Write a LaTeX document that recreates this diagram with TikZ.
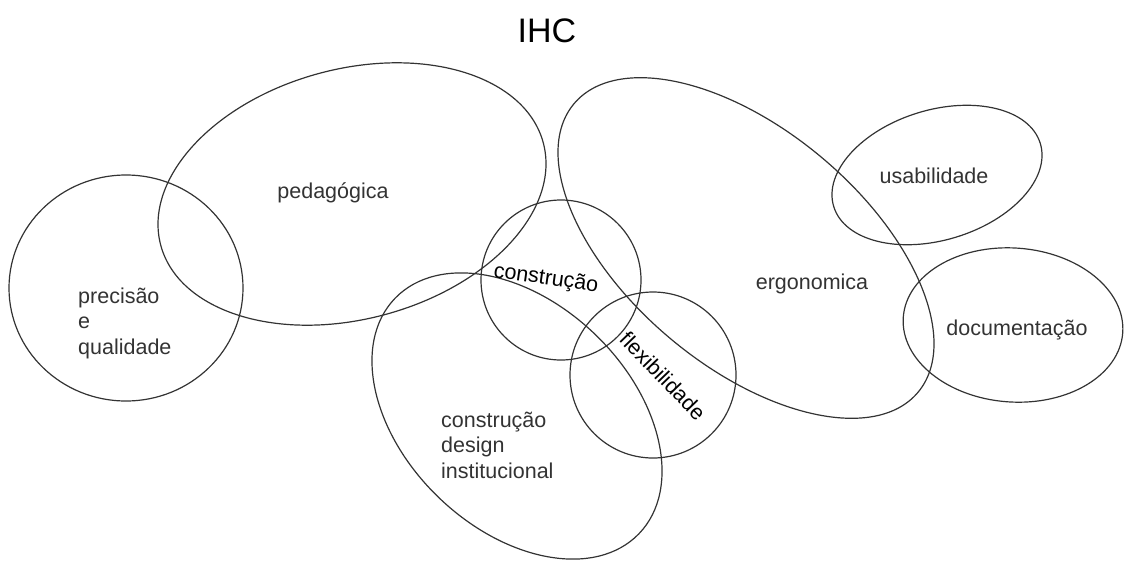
\documentclass[tikz,border=0pt]{standalone}
\usepackage{fontspec}
\setmainfont{Liberation Sans}
\usetikzlibrary{shapes.geometric}

\begin{document}
\begin{tikzpicture}[x=1pt, y=-1pt,
    area/.style={ellipse, draw=black!80, line width=1.2pt, inner sep=0pt},
    lbl/.style={inner sep=0pt, text=black!80, font=\fontsize{21.5}{25.5}\selectfont},
    lblb/.style={lbl, text=black}]
      \useasboundingbox (0,0) rectangle (1124,560);

      % the areas
      \node[area, minimum width=234pt, minimum height=226pt] (prec) at (126,288) {};
      \node[area, minimum width=396pt, minimum height=250pt, rotate=15] (ped) at (352,194) {};
      \node[area, minimum width=160pt, minimum height=160pt] (cons) at (561,280) {};
      \node[area, minimum width=166pt, minimum height=166pt] (flex) at (653,375) {};
      \node[area, minimum width=339pt, minimum height=226pt, rotate=-44] (cdi) at (517,416) {};
      \node[area, minimum width=449pt, minimum height=236pt, rotate=-40] (ergo) at (746,248) {};
      \node[area, minimum width=216pt, minimum height=130pt, rotate=17] (usab) at (937,175) {};
      \node[area, minimum width=220pt, minimum height=154pt, rotate=-4] (doc) at (1013,325) {};

      % the labels
      \node[lbl, text=black, anchor=base, font=\fontsize{34}{40}\selectfont] (ihc) at (547,42) {IHC};
      \node[lbl, anchor=base] (pedtext) at (333,198) {pedagógica};
      \node[lbl, anchor=west, align=left] (prectext) at (78,323) {precisão\\e\\qualidade};
      \node[lblb, rotate=-8] (constext) at (546,279) {construção};
      \node[lblb, rotate=-46] (flextext) at (663,376) {flexibilidade};
      \node[lbl, anchor=west, align=left] (cditext) at (441,445) {construção\\design\\institucional};
      \node[lbl, anchor=base] (ergotext) at (812,289) {ergonomica};
      \node[lbl, anchor=base] (usabtext) at (934,183) {usabilidade};
      \node[lbl, anchor=base] (doctext) at (1017,335) {documentação};
\end{tikzpicture}
\end{document}
